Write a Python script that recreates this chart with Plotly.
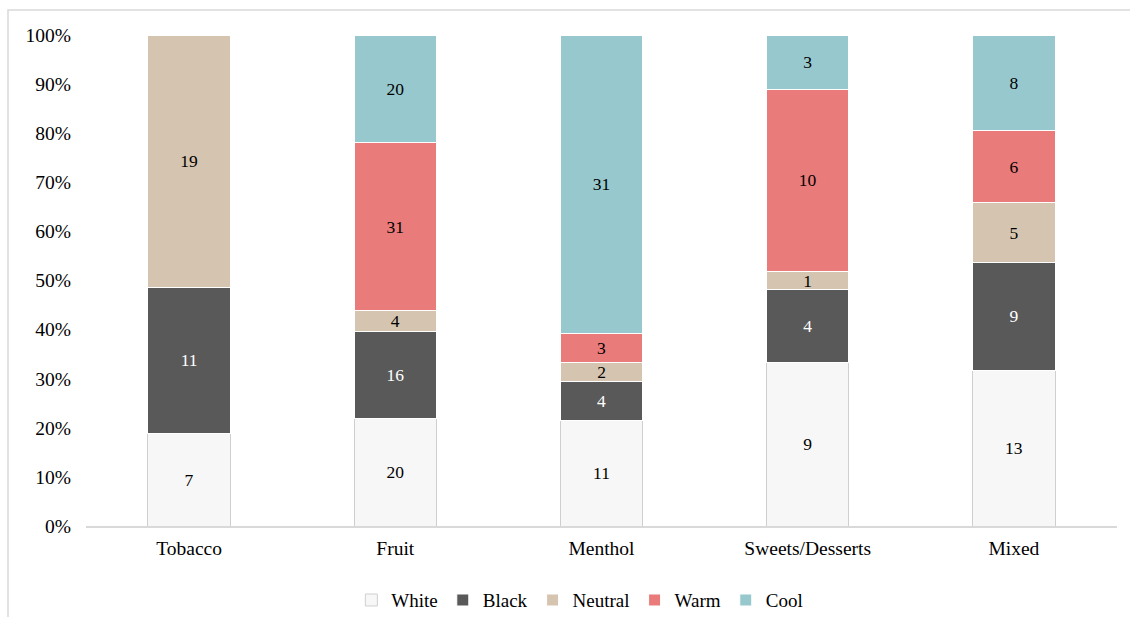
import plotly.graph_objects as go

categories = ["Tobacco", "Fruit", "Menthol", "Sweets/Desserts", "Mixed"]
white = [7, 20, 11, 9, 13]
black = [11, 16, 4, 4, 9]
neutral = [19, 4, 2, 1, 5]
warm = [0, 31, 3, 10, 6]
cool = [0, 20, 31, 3, 8]

series = [
    ("White", white, "#F7F7F7", "#CFCFCF", "black"),
    ("Black", black, "#595959", "#FFFFFF", "white"),
    ("Neutral", neutral, "#D5C4AF", "#FFFFFF", "black"),
    ("Warm", warm, "#E97B7A", "#FFFFFF", "black"),
    ("Cool", cool, "#96C8CE", "#FFFFFF", "black"),
]

FONT = "'Liberation Serif', 'Times New Roman', Times, serif"

fig = go.Figure()
for name, vals, color, line, tcolor in series:
    fig.add_trace(go.Bar(
        x=categories, y=vals, name=name,
        marker=dict(color=color, line=dict(color=line, width=1)),
        text=[str(v) if v else "" for v in vals],
        textposition="inside", insidetextanchor="middle", textangle=0,
        textfont=dict(family=FONT, size=17.5, color=tcolor),
        constraintext="none",
        hoverinfo="skip",
    ))

fig.update_layout(
    barmode="stack", barnorm="percent", bargap=0.6,
    width=1130, height=617,
    margin=dict(l=86, r=13, t=35, b=91, autoexpand=False),
    paper_bgcolor="white", plot_bgcolor="white",
    font=dict(family=FONT, size=19.5, color="black"),
    showlegend=True,
    legend=dict(orientation="h", x=0.479, xanchor="center", y=-0.151, yanchor="middle",
                font=dict(family=FONT, size=19), traceorder="normal",
                itemwidth=30, tracegroupgap=0),
    uniformtext=dict(mode=False),
    xaxis=dict(showgrid=False, showline=True, linecolor="#D9D9D9", linewidth=2,
               ticks="", tickfont=dict(family=FONT, size=19.5), ticklabelstandoff=4),
    yaxis=dict(range=[0, 100], tickvals=list(range(0, 101, 10)),
               ticktext=[f"{v}%" for v in range(0, 101, 10)],
               showgrid=False, showline=False, zeroline=False, ticks="",
               tickfont=dict(family=FONT, size=19.5), ticklabelstandoff=14),
    shapes=[dict(type="rect", xref="paper", yref="paper",
                 x0=(8 - 86) / 1031, x1=(1140 - 86) / 1031,
                 y0=(526 - 630) / 491, y1=(526 - 10) / 491,
                 line=dict(color="#D9D9D9", width=1.5), layer="below")],
)

fig.write_html("out.html")
